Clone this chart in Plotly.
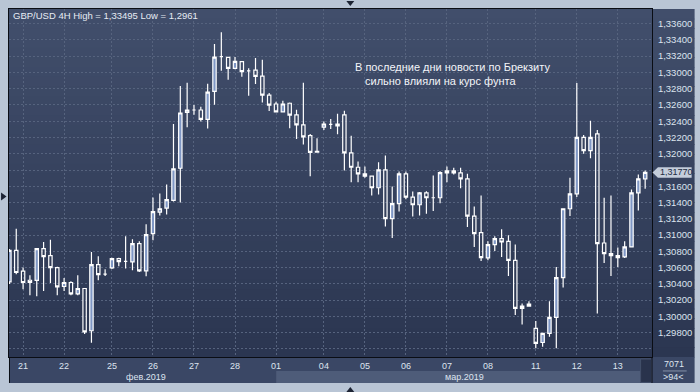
import plotly.graph_objects as go

# ---- data (GBP/USD, 4H bars) ----
open_ = [1.30424, 1.30813, 1.30556, 1.30445, 1.30442, 1.30834, 1.30748, 1.30601, 1.30368, 1.30417,
         1.30277, 1.30343, 1.29824, 1.30638, 1.30519, 1.30596, 1.30711, 1.30678, 1.30670, 1.30895,
         1.30559, 1.31018, 1.31283, 1.31332, 1.31426, 1.31822, 1.32509, 1.32538, 1.32538, 1.32423,
         1.32766, 1.33195, 1.33185, 1.33050, 1.33134, 1.33020, 1.33028, 1.32955, 1.32722, 1.32612,
         1.32515, 1.32621, 1.32477, 1.32354, 1.32223, 1.32030, 1.32327, 1.32361, 1.32366, 1.32477,
         1.32011, 1.31834, 1.31753, 1.31724, 1.31582, 1.31802, 1.31202, 1.31386, 1.31753, 1.31467,
         1.31373, 1.31520, 1.31459, 1.31459, 1.31790, 1.31790, 1.31766, 1.31692, 1.31234, 1.31030,
         1.30719, 1.30883, 1.30956, 1.30923, 1.30690, 1.30126, 1.30151, 1.29853, 1.29679, 1.29792,
         1.29988, 1.30478, 1.31324, 1.31508, 1.32202, 1.32039, 1.32244, 1.30903, 1.30773, 1.30748,
         1.30731, 1.30854, 1.31520, 1.31692]
high = [1.30830, 1.31079, 1.30601, 1.30507, 1.30840, 1.30915, 1.30944, 1.30610, 1.30473, 1.30433,
        1.30507, 1.30350, 1.30792, 1.30739, 1.30580, 1.30720, 1.30720, 1.30985, 1.30948, 1.30923,
        1.31132, 1.31463, 1.31512, 1.31622, 1.32366, 1.32832, 1.32873, 1.32599, 1.32578, 1.32860,
        1.33351, 1.33495, 1.33190, 1.33191, 1.33140, 1.33053, 1.33176, 1.33155, 1.32746, 1.32640,
        1.32652, 1.32630, 1.32542, 1.32873, 1.32244, 1.32190, 1.32398, 1.32428, 1.32493, 1.32529,
        1.32223, 1.31904, 1.31843, 1.31730, 1.31896, 1.31978, 1.31598, 1.31782, 1.31782, 1.31536,
        1.31530, 1.31540, 1.31733, 1.31785, 1.31843, 1.31827, 1.31827, 1.31753, 1.31352, 1.31487,
        1.30923, 1.30985, 1.31071, 1.30997, 1.30883, 1.30160, 1.30188, 1.29943, 1.29800, 1.30188,
        1.30608, 1.31330, 1.31704, 1.32869, 1.32231, 1.32407, 1.32293, 1.31459, 1.31487, 1.30846,
        1.30923, 1.31561, 1.31745, 1.31794]
low = [1.30400, 1.30519, 1.30335, 1.30261, 1.30249, 1.30314, 1.30412, 1.30261, 1.30314, 1.30261,
       1.30261, 1.29783, 1.29677, 1.30445, 1.30498, 1.30584, 1.30617, 1.30589, 1.30568, 1.30547,
       1.30494, 1.30936, 1.31242, 1.31254, 1.31414, 1.31402, 1.32325, 1.32480, 1.32398, 1.32312,
       1.32603, 1.33020, 1.32909, 1.33040, 1.32946, 1.32713, 1.32857, 1.32631, 1.32526, 1.32510,
       1.32509, 1.32315, 1.32180, 1.32113, 1.31724, 1.32020, 1.32293, 1.32305, 1.32241, 1.31794,
       1.31650, 1.31650, 1.31704, 1.31487, 1.31500, 1.31107, 1.30964, 1.31291, 1.31442, 1.31230,
       1.31242, 1.31263, 1.31295, 1.31393, 1.31650, 1.31745, 1.31577, 1.31099, 1.30854, 1.30682,
       1.30690, 1.30804, 1.30731, 1.30498, 1.30016, 1.29902, 1.30120, 1.29610, 1.29628, 1.29750,
       1.29610, 1.30356, 1.31234, 1.31467, 1.31999, 1.31945, 1.30037, 1.30657, 1.30498, 1.30608,
       1.30719, 1.30850, 1.31303, 1.31570]
close = [1.30813, 1.30540, 1.30417, 1.30417, 1.30834, 1.30736, 1.30601, 1.30363, 1.30417, 1.30277,
         1.30343, 1.29811, 1.30638, 1.30515, 1.30519, 1.30711, 1.30674, 1.30678, 1.30895, 1.30559,
         1.31006, 1.31288, 1.31324, 1.31435, 1.31815, 1.32501, 1.32538, 1.32538, 1.32423, 1.32759,
         1.33188, 1.33195, 1.33050, 1.33136, 1.33011, 1.33020, 1.32952, 1.32722, 1.32599, 1.32515,
         1.32612, 1.32474, 1.32354, 1.32207, 1.32018, 1.32020, 1.32366, 1.32361, 1.32342, 1.32011,
         1.31834, 1.31753, 1.31724, 1.31582, 1.31802, 1.31202, 1.31386, 1.31753, 1.31467, 1.31373,
         1.31520, 1.31459, 1.31459, 1.31769, 1.31766, 1.31766, 1.31692, 1.31234, 1.31018, 1.30724,
         1.30883, 1.30956, 1.30915, 1.30690, 1.30098, 1.30098, 1.30126, 1.29669, 1.29792, 1.29988,
         1.30478, 1.31324, 1.31508, 1.32202, 1.32039, 1.32202, 1.30895, 1.30773, 1.30748, 1.30724,
         1.30854, 1.31520, 1.31692, 1.31770]

day_tick_index = [2, 8, 15, 21, 27, 33, 39, 46, 52, 58, 64, 70, 77, 83, 89]
day_tick_label = ["21", "22", "25", "26", "27", "28", "01", "04", "05", "06", "07", "08", "11", "12", "13"]
month_label = ["фев.2019", "мар.2019"]

# 1,29600 is not labelled (too close to the edge), 1,31800 is hidden behind the last-price marker
price_tick = [1.296, 1.298, 1.300, 1.302, 1.304, 1.306, 1.308, 1.310, 1.312, 1.314, 1.316,
              1.318, 1.320, 1.322, 1.324, 1.326, 1.328, 1.330, 1.332, 1.334, 1.336]
price_tick_label = ["", "1,29800", "1,30000", "1,30200", "1,30400", "1,30600", "1,30800",
                    "1,31000", "1,31200", "1,31400", "1,31600", "", "1,32000", "1,32200",
                    "1,32400", "1,32600", "1,32800", "1,33000", "1,33200", "1,33400", "1,33600"]

symbol = "GBP/USD 4H"
note_lines = ["В последние дни новости по Брекзиту", "сильно влияли на курс фунта"]
bars_total = "7071"

# ---- layout geometry / styles ----
W, H = 700, 392
ML, MR, MT, MB = 8, 43, 8, 35
PW, PH = W - ML - MR, H - MT - MB
X_RANGE = [-0.06, 94.0]
Y_RANGE = [1.29501, 1.33780]
FONT = "Liberation Sans, Arial, sans-serif"
TXT = "#dde4ef"


def fx(px):
    return (px - ML) / PW


def fy(py):
    return (H - MB - py) / PH


def fmt_price(v, trim=False):
    s = f"{v:.5f}"
    if trim:
        s = s.rstrip("0")
    return s.replace(".", ",")


shapes = []
# vertical gradient background (plot + price column)
top_c, bot_c = (65, 78, 107), (43, 54, 81)
n_bands = 36
y_top, y_bot = 8, 357
for k in range(n_bands):
    t = k / (n_bands - 1)
    c = tuple(round(top_c[j] + (bot_c[j] - top_c[j]) * t) for j in range(3))
    py0 = y_top + (y_bot - y_top) * k / n_bands
    py1 = y_top + (y_bot - y_top) * (k + 1) / n_bands + 0.6
    shapes.append(dict(type="rect", xref="paper", yref="paper", layer="below",
                       x0=fx(8), x1=fx(700), y0=fy(py1), y1=fy(py0),
                       fillcolor="rgb(%d,%d,%d)" % c, line=dict(width=0)))
# bottom date strip
shapes.append(dict(type="rect", xref="paper", yref="paper", layer="below",
                   x0=fx(8), x1=fx(700), y0=fy(383), y1=fy(357),
                   fillcolor="#3a4765", line=dict(width=0)))
# lighter band for current month
shapes.append(dict(type="rect", xref="paper", yref="paper", layer="below",
                   x0=fx(277.7), x1=fx(645.5), y0=fy(383), y1=fy(371),
                   fillcolor="#4e5c79", line=dict(width=0)))
# scrollbar-like box
shapes.append(dict(type="rect", xref="paper", yref="paper", layer="above",
                   x0=fx(645.5), x1=fx(656.5), y0=fy(382.5), y1=fy(359),
                   fillcolor="#29334c", line=dict(width=1, color="#44506a")))
# border continuations
shapes.append(dict(type="line", xref="paper", yref="paper", layer="above",
                   x0=fx(657), x1=fx(657), y0=fy(383), y1=fy(357),
                   line=dict(width=1, color="#0a0d14")))
shapes.append(dict(type="line", xref="paper", yref="paper", layer="above",
                   x0=fx(8.5), x1=fx(8.5), y0=fy(383), y1=fy(357),
                   line=dict(width=1, color="#0a0d14")))
# separator in the bottom-right info box
shapes.append(dict(type="line", xref="paper", yref="paper", layer="above",
                   x0=fx(668), x1=fx(692), y0=fy(371), y1=fy(371),
                   line=dict(width=1, color="#8591a8")))
# frame triangles
tri_col = "#1c2333"
shapes.append(dict(type="path", xref="paper", yref="paper", layer="above",
                   path=f"M {fx(348.5)},{fy(0)} L {fx(356.5)},{fy(0)} L {fx(352.5)},{fy(5)} Z",
                   fillcolor=tri_col, line=dict(width=0)))
shapes.append(dict(type="path", xref="paper", yref="paper", layer="above",
                   path=f"M {fx(348.5)},{fy(392)} L {fx(356.5)},{fy(392)} L {fx(352.5)},{fy(387)} Z",
                   fillcolor=tri_col, line=dict(width=0)))
shapes.append(dict(type="path", xref="paper", yref="paper", layer="above",
                   path=f"M {fx(0)},{fy(192)} L {fx(0)},{fy(200)} L {fx(5.5)},{fy(196)} Z",
                   fillcolor=tri_col, line=dict(width=0)))

# last-price marker on the price axis
last = close[-1]
px_per_unit = PH / (Y_RANGE[1] - Y_RANGE[0])
hh = 5.2 / px_per_unit
shapes.append(dict(type="path", xref="paper", yref="y", layer="above",
                   path=(f"M {fx(657.5)},{last} L {fx(663)},{last + hh} L {fx(697)},{last + hh} "
                         f"L {fx(697)},{last - hh} L {fx(663)},{last - hh} Z"),
                   fillcolor="#c4cddb", line=dict(width=0)))

annotations = [
    dict(xref="paper", yref="paper", x=fx(10.5), y=fy(15), xanchor="left", yanchor="middle",
         text=f"{symbol} High = {fmt_price(max(high), True)} Low = {fmt_price(min(low), True)}",
         showarrow=False, font=dict(family=FONT, size=9.5, color="#e6ebf3")),
    dict(xref="paper", yref="paper", x=fx(355.5), y=fy(66.5), xanchor="left", yanchor="middle",
         text=note_lines[0], showarrow=False, font=dict(family=FONT, size=11, color="#f3f5f9")),
    dict(xref="paper", yref="paper", x=fx(365), y=fy(80.5), xanchor="left", yanchor="middle",
         text=note_lines[1], showarrow=False, font=dict(family=FONT, size=11, color="#f3f5f9")),
    dict(xref="paper", yref="paper", x=fx(146.7), y=fy(377.5), xanchor="center", yanchor="middle",
         text=month_label[0], showarrow=False, font=dict(family=FONT, size=9, color=TXT)),
    dict(xref="paper", yref="paper", x=fx(467.3), y=fy(377.5), xanchor="center", yanchor="middle",
         text=month_label[1], showarrow=False, font=dict(family=FONT, size=9, color=TXT)),
    dict(xref="paper", yref="paper", x=fx(679), y=fy(364.5), xanchor="center", yanchor="middle",
         text=bars_total, showarrow=False, font=dict(family=FONT, size=9, color=TXT)),
    dict(xref="paper", yref="paper", x=fx(679), y=fy(377.5), xanchor="center", yanchor="middle",
         text=f"&gt;{len(close)}&lt;", showarrow=False, font=dict(family=FONT, size=9, color=TXT)),
    dict(xref="paper", yref="y", x=fx(664), y=last, xanchor="left", yanchor="middle",
         text=fmt_price(last), showarrow=False, borderpad=0,
         font=dict(family=FONT, size=9, color="#222b3f")),
]

fig = go.Figure()
fig.add_trace(go.Candlestick(
    x=list(range(len(close))), open=open_, high=high, low=low, close=close,
    increasing=dict(line=dict(color="#ffffff", width=1.2), fillcolor="#7f97c5"),
    decreasing=dict(line=dict(color="#ffffff", width=1.2), fillcolor="rgba(0,0,0,0)"),
    whiskerwidth=0, hoverinfo="skip", showlegend=False,
))

grid = dict(showgrid=True, gridcolor="#56637e", gridwidth=1, griddash="2px,2px",
            zeroline=False, showline=True, linecolor="#0a0d14", linewidth=1, mirror=True,
            ticks="", fixedrange=True)

fig.update_layout(
    width=W, height=H,
    margin=dict(l=ML, r=MR, t=MT, b=MB, pad=0),
    paper_bgcolor="#b9c5d5",
    plot_bgcolor="rgba(0,0,0,0)",
    showlegend=False,
    shapes=shapes,
    annotations=annotations,
    xaxis=dict(range=X_RANGE, tickmode="array", tickvals=day_tick_index, ticktext=day_tick_label,
               rangeslider=dict(visible=False), ticklabelstandoff=0,
               tickfont=dict(family=FONT, size=9, color=TXT), **grid),
    yaxis=dict(range=Y_RANGE, side="right", tickmode="array", tickvals=price_tick,
               ticktext=price_tick_label, ticklabelstandoff=3,
               tickfont=dict(family=FONT, size=9.5, color=TXT), **grid),
)

fig.write_html("out.html", config={"displayModeBar": False})
